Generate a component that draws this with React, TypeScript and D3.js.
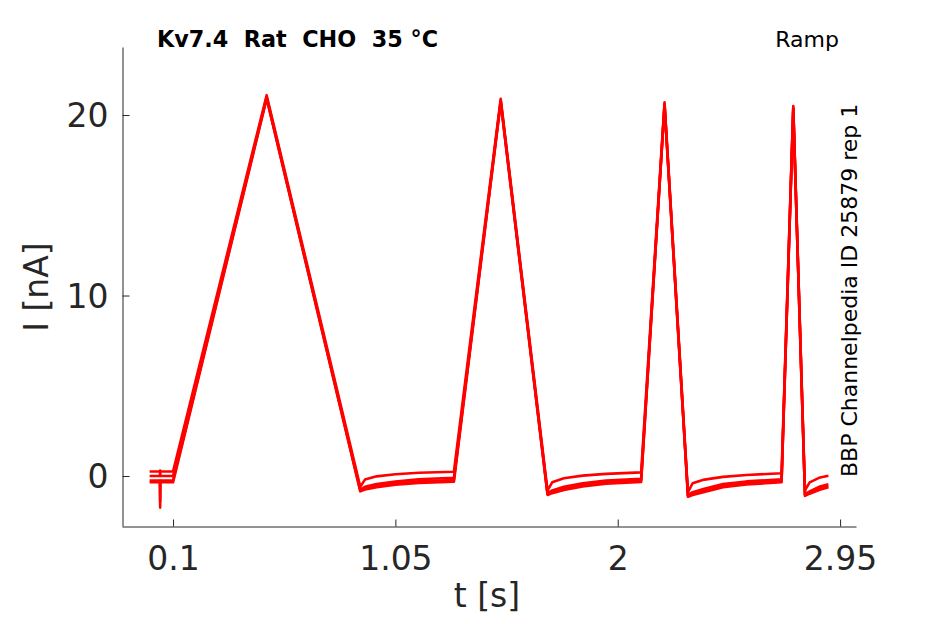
import { useEffect, useRef } from 'react';
import * as d3 from 'd3';

// sample times (s), shared by all sweeps
const timePoints = [
  0, 0.044, 0.045, 0.046, 0.1, 0.5, 0.9, 0.92, 0.97, 1.05, 1.15, 1.3,
  1.5, 1.7, 1.72, 1.77, 1.85, 1.95, 2.1,
  2.2, 2.3, 2.32, 2.37, 2.45, 2.55, 2.7,
  2.75, 2.8, 2.82, 2.86, 2.9,
];

// current (nA), one array per sweep
const sweepA = [
  0.25, 0.25, 0.25, 0.25, 0.25, 21.1, -0.6, -0.2, -0.02, 0.1, 0.18, 0.24,
  20.9, -0.8, -0.35, -0.12, 0.02, 0.12, 0.2,
  20.7, -0.9, -0.4, -0.2, -0.05, 0.06, 0.15,
  20.5, -0.8, -0.35, -0.1, 0.02,
];
const sweepB = [
  0.0, 0.0, 0.3, 0.0, 0.0, 21.0, -0.75, -0.6, -0.45, -0.3, -0.18, -0.1,
  20.8, -0.95, -0.8, -0.6, -0.4, -0.25, -0.15,
  20.6, -1.05, -0.9, -0.7, -0.45, -0.3, -0.18,
  20.4, -1.0, -0.85, -0.6, -0.45,
];
const sweepC = [
  -0.25, -0.25, -1.4, -0.25, -0.25, 20.95, -0.8, -0.68, -0.55, -0.4, -0.3, -0.22,
  20.75, -1.0, -0.88, -0.7, -0.5, -0.35, -0.25,
  20.55, -1.1, -0.98, -0.8, -0.55, -0.4, -0.28,
  20.35, -1.05, -0.92, -0.7, -0.55,
];
const sweepD = [
  -0.35, -0.35, -1.75, -0.35, -0.35, 20.9, -0.85, -0.75, -0.62, -0.48, -0.38, -0.32,
  20.7, -1.05, -0.95, -0.78, -0.58, -0.43, -0.33,
  20.5, -1.15, -1.05, -0.88, -0.62, -0.47, -0.35,
  20.3, -1.1, -0.98, -0.78, -0.62,
];
const sweeps = [sweepA, sweepB, sweepC, sweepD];

const xTicks = [0.1, 1.05, 2, 2.95];
const yTicks = [0, 10, 20];

export default function App() {
  const ref = useRef<SVGSVGElement>(null);

  useEffect(() => {
    document.body.style.margin = '0';
    const svg = d3.select(ref.current);
    svg.selectAll('*').remove();

    const width = 945, height = 624;
    const margin = { top: 47, right: 89, bottom: 98, left: 122 };
    const font = 'DejaVu Sans, sans-serif';
    const axisColor = '#262626';

    const x = d3.scaleLinear().domain([-0.118, 3.018]).range([margin.left, width - margin.right]);
    const y = d3.scaleLinear().domain([-2.77, 23.77]).range([height - margin.bottom, margin.top]);

    const line = d3.line<[number, number]>()
      .x(d => x(d[0]))
      .y(d => y(d[1]));

    const traces = svg.append('g');
    sweeps.forEach(vals => {
      const pts = timePoints.map((t, i) => [t, vals[i]] as [number, number]);
      traces.append('path')
        .attr('d', line(pts))
        .attr('fill', 'none')
        .attr('stroke', '#ff0000')
        .attr('stroke-width', 2.6)
        .attr('stroke-linejoin', 'round');
    });

    // axes, matlab style: ticks inward
    const xAxis = svg.append('g')
      .attr('transform', `translate(0,${height - margin.bottom + 0.5})`)
      .call(d3.axisBottom(x).tickValues(xTicks).tickSize(-7).tickSizeOuter(0).tickFormat(d => String(d)));
    const yAxis = svg.append('g')
      .attr('transform', `translate(${margin.left + 0.5},0)`)
      .call(d3.axisLeft(y).tickValues(yTicks).tickSize(-7).tickSizeOuter(0).tickFormat(d => String(d)));

    [xAxis, yAxis].forEach(a => {
      a.select('.domain').attr('stroke', axisColor);
      a.selectAll('.tick line').attr('stroke', axisColor);
      a.selectAll('.tick text')
        .attr('fill', axisColor)
        .attr('font-family', font)
        .attr('font-size', 33);
    });
    xAxis.selectAll('.tick text').attr('y', 20).attr('dy', '0.71em');
    yAxis.selectAll('.tick text').attr('x', -14).attr('dy', '0.36em');

    svg.append('text')
      .attr('x', 487)
      .attr('y', 607)
      .attr('text-anchor', 'middle')
      .attr('font-family', font)
      .attr('font-size', 33)
      .attr('fill', axisColor)
      .text('t [s]');

    svg.append('text')
      .attr('transform', 'translate(48,287) rotate(-90)')
      .attr('text-anchor', 'middle')
      .attr('font-family', font)
      .attr('font-size', 33)
      .attr('fill', axisColor)
      .text('I [nA]');

    svg.append('text')
      .attr('x', 157)
      .attr('y', 47)
      .attr('font-family', font)
      .attr('font-size', 22.3)
      .attr('font-weight', 'bold')
      .attr('fill', '#000')
      .attr('xml:space', 'preserve')
      .style('white-space', 'pre')
      .text('Kv7.4  Rat  CHO  35 °C');

    svg.append('text')
      .attr('x', 839)
      .attr('y', 47)
      .attr('text-anchor', 'end')
      .attr('font-family', font)
      .attr('font-size', 22)
      .attr('fill', '#000')
      .text('Ramp');

    svg.append('text')
      .attr('transform', 'translate(857,477) rotate(-90)')
      .attr('font-family', font)
      .attr('font-size', 22)
      .attr('fill', '#000')
      .text('BBP Channelpedia ID 25879 rep 1');
  }, []);

  return <svg ref={ref} width={945} height={624} style={{ display: 'block', background: '#fff' }} />;
}
